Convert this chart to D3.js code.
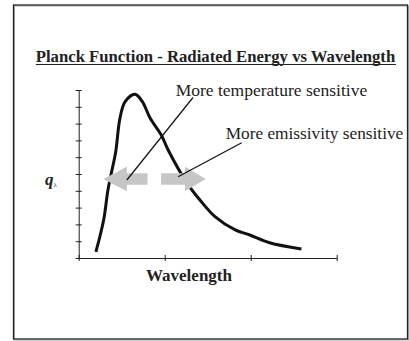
<!DOCTYPE html>
<html>
<head>
<meta charset="utf-8">
<script src="https://cdn.jsdelivr.net/npm/d3@7"></script>
<style>
  html, body { margin: 0; padding: 0; background: #fff; }
  svg { display: block; }
</style>
</head>
<body>
<svg id="chart" width="409" height="341"></svg>
<script>
// Planck curve samples: wavelength (arbitrary units) vs radiated energy q_lambda
const wavelength = [0.20, 0.29, 0.34, 0.38, 0.43, 0.48, 0.54, 0.655, 0.74, 0.83, 0.96, 1.04, 1.26, 1.41, 1.585, 1.82, 1.99, 2.22, 2.59];
const radiance   = [0.36, 2.26, 4.05, 5.06, 6.31, 8.33, 9.31, 9.74, 9.31, 8.33, 7.32, 6.43, 4.46, 3.45, 2.46, 1.67, 1.37, 0.91, 0.54];

const xTicks = [0, 1, 2, 3];
const yTicks = [0, 1, 2, 3, 4, 5, 6, 7, 8, 9, 10];

const titleText = "Planck Function - Radiated Energy vs Wavelength";
const xLabel = "Wavelength";
const tempNote = "More temperature sensitive";
const emisNote = "More emissivity sensitive";

const svg = d3.select("#chart");
const serif = "'Liberation Serif', 'Times New Roman', serif";

// outer frame with a soft shadow
svg.append("rect").attr("x", 14.5).attr("y", 6).attr("width", 394).attr("height", 334)
  .attr("fill", "none").attr("stroke", "#aaa").attr("stroke-width", 1);
svg.append("rect").attr("x", 13.5).attr("y", 5).attr("width", 394).attr("height", 334)
  .attr("fill", "none").attr("stroke", "#222").attr("stroke-width", 1.3);

const x = d3.scaleLinear().domain([0, 3]).range([78.7, 336.7]);
const y = d3.scaleLinear().domain([0, 10]).range([258, 90]);

// y axis with ticks crossing the line
const yAxis = svg.append("g").attr("transform", `translate(${x(0)},0)`)
  .call(d3.axisLeft(y).tickValues(yTicks).tickSizeInner(3).tickSizeOuter(0).tickFormat(""));
yAxis.selectAll(".tick line").attr("x2", -3).attr("x1", 3);
yAxis.selectAll("line, path").attr("stroke", "#222");

const xAxis = svg.append("g").attr("transform", `translate(0,${y(0)})`)
  .call(d3.axisBottom(x).tickValues(xTicks).tickSizeInner(3).tickSizeOuter(0).tickFormat(""));
xAxis.selectAll(".tick line").attr("y1", -3).attr("y2", 3);
xAxis.selectAll("line, path").attr("stroke", "#222");

// the curve
const line = d3.line().x((d, i) => x(wavelength[i])).y(d => y(d)).curve(d3.curveCatmullRom.alpha(0.5));
svg.append("path").datum(radiance).attr("d", line)
  .attr("fill", "none").attr("stroke", "#111").attr("stroke-width", 3).attr("stroke-linecap", "butt");

// title
const title = svg.append("text").attr("x", 215.5).attr("y", 61.5).attr("text-anchor", "middle")
  .attr("font-family", serif).attr("font-weight", "bold")
  .attr("font-size", 16.7).attr("fill", "#222").text(titleText);
const tb = title.node().getBBox();
svg.append("line").attr("x1", tb.x).attr("x2", tb.x + tb.width).attr("y1", 64.5).attr("y2", 64.5)
  .attr("stroke", "#222").attr("stroke-width", 1);

// axis labels
svg.append("text").attr("x", 189).attr("y", 281).attr("text-anchor", "middle")
  .attr("font-family", serif).attr("font-weight", "bold")
  .attr("font-size", 17).attr("fill", "#222").text(xLabel);

const q = svg.append("text").attr("x", 45).attr("y", 185)
  .attr("font-family", serif).attr("font-weight", "bold")
  .attr("font-style", "italic").attr("font-size", 17).attr("fill", "#222").text("q");
q.append("tspan").attr("font-size", 7).attr("font-style", "normal").attr("font-weight", "normal")
  .attr("dy", 2).text("λ");

// gray direction arrows
const arrowY = 4.7;
function arrowPath(tail, tip, headBase) {
  const yc = y(arrowY), bh = 5.7, hh = 12.2;
  const xt = x(tail), xp = x(tip), xb = x(headBase);
  return `M${xt},${yc - bh}L${xb},${yc - bh}L${xb},${yc - hh}L${xp},${yc}L${xb},${yc + hh}L${xb},${yc + bh}L${xt},${yc + bh}Z`;
}
svg.append("path").attr("d", arrowPath(0.80, 0.286, 0.56)).attr("fill", "#c6c6c6");
svg.append("path").attr("d", arrowPath(0.957, 1.48, 1.236)).attr("fill", "#c6c6c6");

// annotation notes and leader lines
svg.append("text").attr("x", 175.7).attr("y", 95.5).attr("font-family", serif)
  .attr("font-size", 17.5).attr("fill", "#222").text(tempNote);
svg.append("text").attr("x", 225.7).attr("y", 138.5).attr("font-family", serif)
  .attr("font-size", 17.3).attr("fill", "#222").text(emisNote);

svg.append("line").attr("x1", 193).attr("y1", 97.5).attr("x2", x(0.56)).attr("y2", 180)
  .attr("stroke", "#111").attr("stroke-width", 1.2);
svg.append("line").attr("x1", 241.7).attr("y1", 142.7).attr("x2", x(1.156)).attr("y2", 176.7)
  .attr("stroke", "#111").attr("stroke-width", 1.2);
</script>
</body>
</html>
